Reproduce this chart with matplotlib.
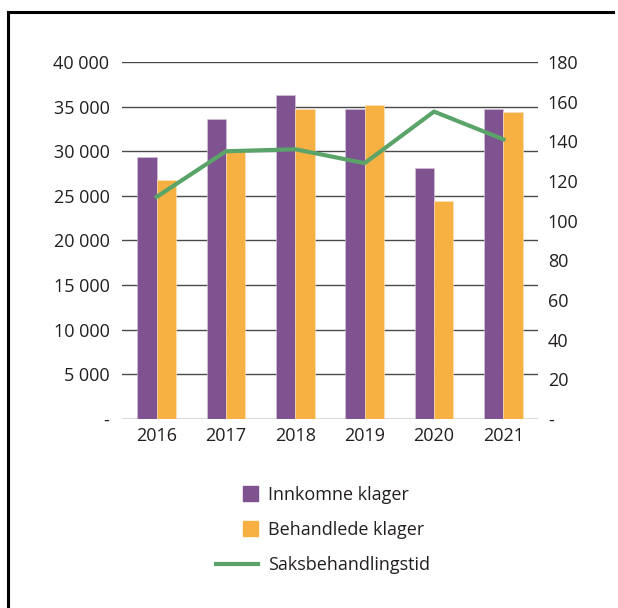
import numpy as np
import matplotlib.pyplot as plt
from matplotlib.lines import Line2D
from matplotlib.patches import Patch, Rectangle
from matplotlib.legend_handler import HandlerPatch
from matplotlib.ticker import FuncFormatter

plt.rcParams['font.family'] = ['Open Sans', 'DejaVu Sans']

years = ['2016', '2017', '2018', '2019', '2020', '2021']
innkomne = [29400, 33600, 36300, 34700, 28100, 34700]
behandlede = [26800, 30100, 34700, 35200, 24400, 34400]
saksbehandlingstid = [112, 135, 136, 129, 155, 141]

purple = '#7f5290'
orange = '#f7b142'
green = '#5aa469'
text_col = '#231f20'

fig = plt.figure(figsize=(6.18, 6.08), dpi=100)
ax = fig.add_axes([0.1974, 0.3109, 0.6732, 0.5871])
ax2 = ax.twinx()

x = np.arange(len(years))
w = 0.28
ax.bar(x - w / 2, innkomne, w, color=purple, edgecolor='#d8c8dd', linewidth=0.4, zorder=3)
ax.bar(x + w / 2, behandlede, w, color=orange, edgecolor='#fbe3bd', linewidth=0.4, zorder=3)
ax2.plot(x, saksbehandlingstid, color=green, lw=3)

ax.set_xlim(-0.5, 5.5)
ax.set_ylim(0, 40000)
ax2.set_ylim(0, 180)
ax.set_yticks(np.arange(0, 40001, 5000))
ax2.set_yticks(np.arange(0, 181, 20))
ax.set_xticks(x)
ax.set_xticklabels(years)

def thousands(v, pos):
    if v == 0:
        return '-'
    return f'{int(v):,}'.replace(',', ' ')

def plain(v, pos):
    return '-' if v == 0 else f'{int(v)}'

ax.yaxis.set_major_formatter(FuncFormatter(thousands))
ax2.yaxis.set_major_formatter(FuncFormatter(plain))

ax.grid(axis='y', color='#4a4a4a', lw=1.0)
ax.set_axisbelow(True)
for a in (ax, ax2):
    for s in a.spines.values():
        s.set_visible(False)
ax.tick_params(axis='y', length=0, pad=9, labelsize=13, labelcolor=text_col)
ax.tick_params(axis='x', length=0, pad=6, labelsize=13, labelcolor=text_col)
ax2.tick_params(axis='y', length=0, pad=7, labelsize=13, labelcolor=text_col)


def square(legend, orig_handle, xdescent, ydescent, width, height, fontsize):
    s = 10.8
    return Rectangle((width - xdescent - s, -ydescent + height / 2 - s / 2), s, s)


handles = [Patch(color=purple), Patch(color=orange), Line2D([], [], color=green, lw=3)]
labels = ['Innkomne klager', 'Behandlede klager', 'Saksbehandlingstid']
fig.legend(handles, labels, loc='center', bbox_to_anchor=(0.523, 0.128),
           frameon=False, fontsize=13, handlelength=2.3, handletextpad=0.6,
           labelspacing=0.95, labelcolor=text_col,
           handler_map={Patch: HandlerPatch(patch_func=square)})

# outer frame (left and top edges)
fig.add_artist(Line2D([0.013, 0.013], [0.0, 0.98], color='black', lw=2.2, transform=fig.transFigure))
fig.add_artist(Line2D([0.013, 0.992], [0.98, 0.98], color='black', lw=2.2, transform=fig.transFigure))

fig.savefig('out.png', dpi=100)
